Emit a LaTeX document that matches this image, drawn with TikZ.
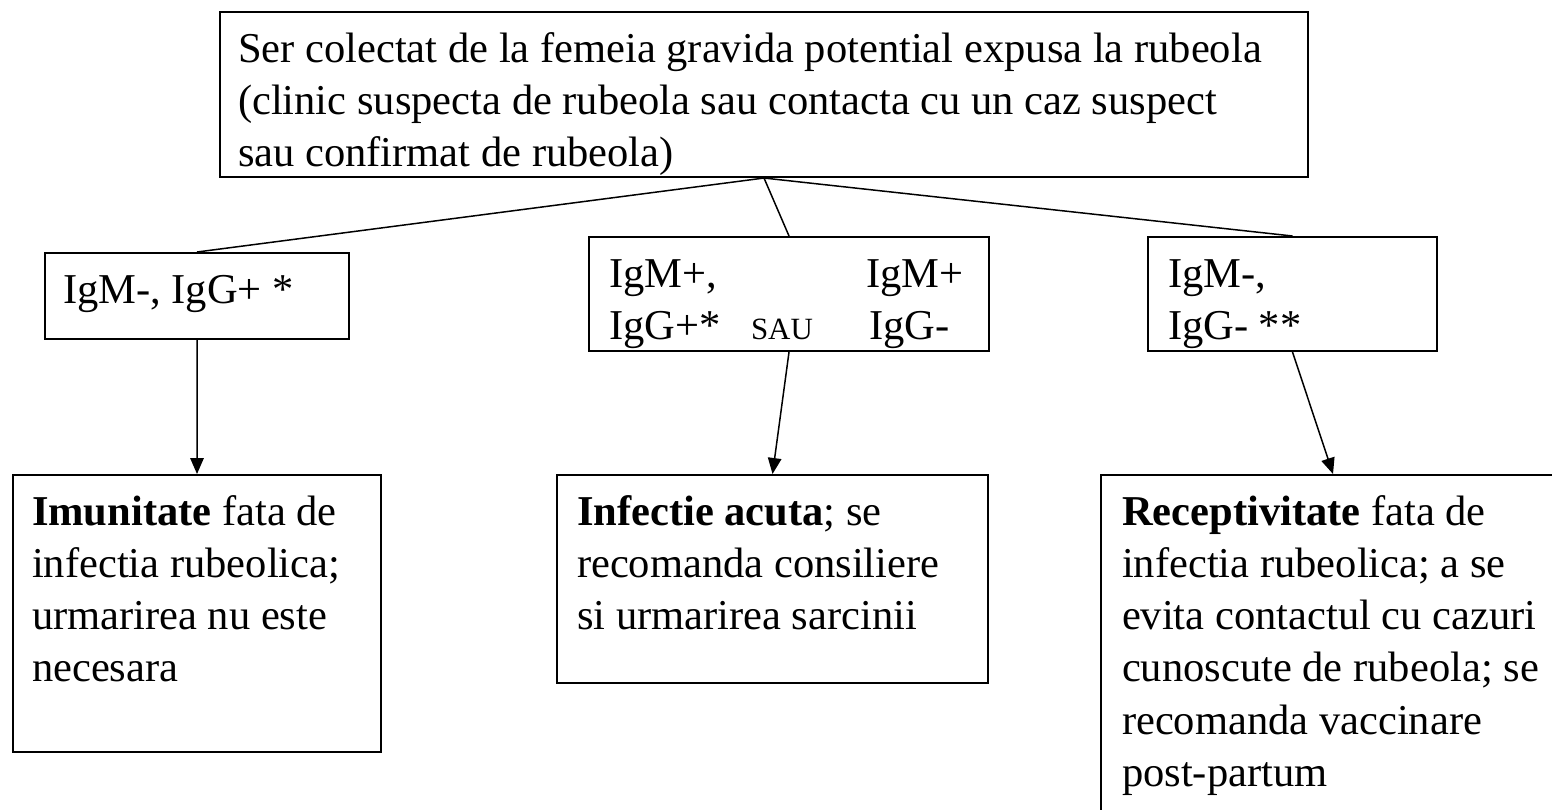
\documentclass[tikz,border=0pt]{standalone}
\usepackage{fontspec}
\setmainfont{Liberation Serif}
\usetikzlibrary{arrows.meta}
\newcommand{\boxtext}[3]{\parbox[c][#2][t]{#1}{\strut#3}}

\begin{document}
\begin{tikzpicture}[
        box/.style={draw,line width=1.15pt,anchor=north west,inner ysep=0.29cm,inner xsep=0.4cm,
            font=\fontsize{24.2}{29.6}\selectfont},
        link/.style={line width=0.85pt},
        arr/.style={line width=0.85pt,-{Triangle[length=0.32cm,width=0.27cm]}}]
        \clip (0,0) rectangle (31.04,-16.18);
        \node[box,inner xsep=0.36cm] at (4.38,-0.22) (ser){\boxtext{21.04cm}{2.72cm}{Ser colectat de la femeia gravida potential expusa la rubeola\\(clinic suspecta de rubeola sau contacta cu un caz suspect\\sau confirmat de rubeola)}};
        \node[box,inner xsep=0.36cm] at (0.88,-5.04) (imun){\boxtext{5.36cm}{1.14cm}{IgM-, IgG+ *}};
        \node[box] at (11.76,-4.72) (acut){\boxtext{7.2cm}{1.7cm}{\makebox[5.14cm][l]{IgM+,}IgM+\\\makebox[2.84cm][l]{IgG+*}\makebox[2.36cm][l]{\fontsize{17.6}{20}\selectfont SAU}IgG-}};
        \node[box] at (22.94,-4.72) (neg){\boxtext{4.98cm}{1.7cm}{IgM-,\\IgG- **}};
        \node[box,inner xsep=0.38cm] at (0.24,-9.48) (resimun){\boxtext{6.6cm}{4.96cm}{\textbf{Imunitate} fata de\\infectia rubeolica;\\urmarirea nu este\\necesara}};
        \node[box] at (11.12,-9.48) (resacut){\boxtext{7.82cm}{3.58cm}{\textbf{Infectie acuta}; se\\recomanda consiliere\\si urmarirea sarcinii}};
        \node[box,inner xsep=0.42cm] at (22.0,-9.48) (resneg){\boxtext{8.44cm}{6.42cm}{\textbf{Receptivitate} fata de\\infectia rubeolica; a se\\evita contactul cu cazuri\\cunoscute de rubeola; se\\recomanda vaccinare\\post-partum}};
        \draw[link] (ser.south) -- (imun.north);
        \draw[link] (ser.south) -- (acut.north);
        \draw[link] (ser.south) -- (neg.north);
        \draw[arr] (imun.south) -- (resimun.north);
        \draw[arr] (acut.south) -- (resacut.north);
        \draw[arr] (neg.south) -- (resneg.north);
    \end{tikzpicture}
\end{document}
